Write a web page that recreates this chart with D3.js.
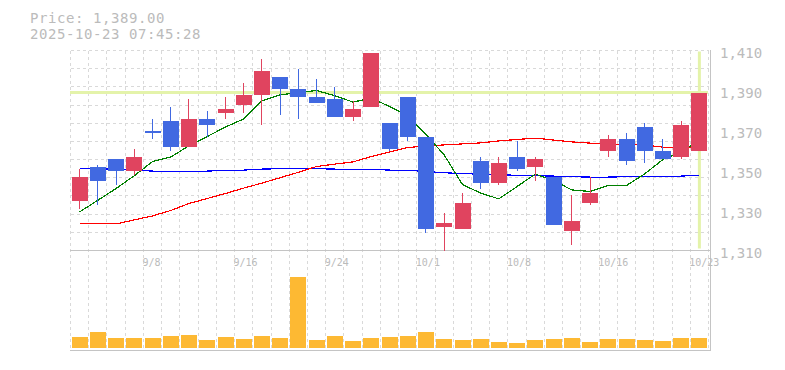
<!DOCTYPE html>
<html><head><meta charset="utf-8">
<script src="https://cdn.jsdelivr.net/npm/d3@7"></script>
<style>body{margin:0;background:#fff;} svg{display:block;}</style>
</head><body><svg id="c" width="785" height="370"></svg>
<script>
// ---- data ----
const dates=["9/2","9/3","9/4","9/5","9/8","9/9","9/10","9/11","9/12","9/16","9/17","9/18","9/19","9/22","9/24","9/25","9/26","9/29","9/30","10/1","10/2","10/3","10/6","10/7","10/8","10/9","10/10","10/14","10/15","10/16","10/17","10/20","10/21","10/22","10/23"];
const openP =[1335,1352,1356,1350,1370,1375,1362,1376,1379,1383,1388,1397,1391,1387,1386,1377,1382,1374,1387,1367,1322,1321,1355,1344,1357,1352,1347,1320,1334,1360,1366,1372,1360,1357,1360];
const highP =[1351,1353,1356,1361,1376,1382,1386,1380,1387,1394,1406,1397,1401,1396,1392,1385,1409,1374,1387,1367,1329,1339,1357,1357,1365,1357,1347,1338,1347,1368,1369,1374,1366,1375,1389];
const lowP  =[1331,1333,1343,1348,1366,1360,1362,1367,1376,1379,1373,1378,1376,1384,1377,1375,1382,1360,1365,1319,1310,1321,1341,1343,1350,1345,1323,1313,1333,1357,1353,1354,1356,1356,1360];
const closeP=[1347,1345,1350,1357,1369,1362,1376,1373,1381,1388,1400,1391,1387,1384,1377,1381,1409,1361,1367,1321,1324,1334,1344,1354,1351,1356,1323,1325,1339,1366,1355,1360,1356,1373,1389];
const volume=[11000,16000,10000,10000,10000,12000,13000,8000,11000,9000,12000,10000,71300,8000,12000,7000,10000,11000,12000,16000,9000,8000,9000,6000,5000,8000,9000,10000,6000,9000,9000,8000,7000,10000,10000];
const maShort=[1329.3,1335.1,1341,1347.4,1354.5,1356.8,1362.3,1367,1371.7,1375.8,1384.8,1387.8,1389,1390,1387.4,1384.2,1386.2,1382,1377.5,1368,1357.8,1343,1338.7,1335.8,1342,1348.2,1345,1340.3,1339.5,1342.5,1342.5,1348.3,1355.5,1359.2,1365];
const maMid=[1323.7,1323.7,1323.3,1325.3,1327.3,1330,1333.5,1336,1338.5,1341.2,1343.7,1346.4,1349.1,1352,1353.2,1354.3,1357,1359.2,1361.5,1362.2,1362.8,1363.3,1363.8,1364.8,1365.5,1366.2,1365.2,1364.3,1363.7,1363.2,1363,1362.7,1361.7,1361.7,1361.7];
const maLong=[1351.2,1351.1,1350.4,1350.2,1349.7,1349.7,1349.7,1349.7,1350.1,1350.2,1350.7,1350.9,1350.9,1350.9,1350.7,1350.7,1350.6,1350.2,1350.1,1349.5,1348.9,1348.4,1348.2,1347.9,1347.6,1347.4,1347.2,1346.9,1346.7,1346.7,1346.9,1347,1347.1,1347.2,1347.6];
const xTickLabels=["9/8","9/16","9/24","10/1","10/8","10/16","10/23"];
const yTicks=[1310,1330,1350,1370,1390,1410];
const lastPrice=1389;
const headerLines=["Price: 1,389.00","2025-10-23 07:45:28"];

// ---- drawing ----
const svg=d3.select("#c");
const x=d3.scaleBand().domain(dates).range([70.5,708.5]).padding(0);
const y=d3.scaleLinear().domain([1310,1410]).range([250.5,50.5]);
const yv=d3.scaleLinear().domain([0,80000]).range([348,268]);
const bw=x.bandwidth();
const cx=d=>x(d)+bw/2;
const UP="#e0445f", DOWN="#4169e1", GRID="#d9d9d9", AX="#c4c4c4", TXT="#bbbbbb", HI="#e4f3aa", VOL="#fdb933";
const mono='"DejaVu Sans Mono","Liberation Mono",monospace';

// grid
const g=svg.append("g").attr("stroke",GRID).attr("stroke-dasharray","3,3").attr("shape-rendering","crispEdges");
const vx=dates.map(d=>x(d)).concat([708.5]);
g.selectAll(".v").data(vx).join("line").attr("x1",d=>d).attr("x2",d=>d).attr("y1",50.5).attr("y2",350);
const hy=d3.range(12).map(i=>50.5+i*200/11);
g.selectAll(".h").data(hy).join("line").attr("x1",70.5).attr("x2",708.5).attr("y1",d=>d).attr("y2",d=>d);

// axis lines
const a=svg.append("g").attr("stroke",AX).attr("stroke-width",1.5).attr("shape-rendering","crispEdges");
a.append("line").attr("x1",70).attr("x2",711).attr("y1",y(1310)).attr("y2",y(1310));
a.append("line").attr("x1",70).attr("x2",711).attr("y1",350.5).attr("y2",350.5);
a.append("line").attr("x1",710.5).attr("x2",710.5).attr("y1",50).attr("y2",351);

// highlight lines
svg.append("line").attr("x1",70).attr("x2",708).attr("y1",y(lastPrice)).attr("y2",y(lastPrice)).attr("stroke",HI).attr("stroke-width",3);
const lastD=dates[dates.length-1];
svg.append("line").attr("x1",cx(lastD)).attr("x2",cx(lastD)).attr("y1",51.5).attr("y2",248.5).attr("stroke",HI).attr("stroke-width",3);

// moving averages
const line=arr=>d3.line().x((d,i)=>cx(dates[i])).y(d=>y(d))(arr);
[[maLong,"#0000ff"],[maMid,"#ff0000"],[maShort,"#008000"]].forEach(([arr,c])=>{
  svg.append("path").attr("d",line(arr)).attr("fill","none").attr("stroke",c).attr("stroke-width",1.2).attr("shape-rendering","crispEdges");
});

// candles
const cg=svg.append("g").attr("shape-rendering","crispEdges");
const idx=d3.range(dates.length);
const col=i=>closeP[i]>=openP[i]?UP:DOWN;
cg.selectAll(".w").data(idx).join("line")
  .attr("x1",i=>Math.floor(cx(dates[i]))+0.5).attr("x2",i=>Math.floor(cx(dates[i]))+0.5)
  .attr("y1",i=>y(highP[i])).attr("y2",i=>y(lowP[i])).attr("stroke",col).attr("stroke-width",1.5);
cg.selectAll(".b").data(idx).join("rect")
  .attr("x",i=>x(dates[i])+1.2).attr("width",16)
  .attr("y",i=>y(Math.max(openP[i],closeP[i])))
  .attr("height",i=>Math.max(1,Math.abs(y(openP[i])-y(closeP[i]))))
  .attr("fill",col);

// volume
svg.append("g").attr("shape-rendering","crispEdges").selectAll("rect").data(idx).join("rect")
  .attr("x",i=>x(dates[i])+1.2).attr("width",16)
  .attr("y",i=>yv(volume[i])).attr("height",i=>yv(0)-yv(volume[i])).attr("fill",VOL);

// text
svg.append("g").selectAll("text").data(headerLines).join("text")
  .attr("x",30).attr("y",(d,i)=>22.6+i*16.5).text(d=>d)
  .attr("font-family",mono).attr("font-size",14).attr("letter-spacing",0.57).attr("fill",TXT);
svg.append("g").selectAll("text").data(yTicks).join("text")
  .attr("x",720).attr("y",d=>y(d)+7.6).text(d=>d3.format(",")(d))
  .attr("font-family",mono).attr("font-size",14).attr("fill",TXT);
svg.append("g").selectAll("text").data(xTickLabels).join("text")
  .attr("x",d=>x(d)-1).attr("y",266).text(d=>d)
  .attr("font-family",mono).attr("font-size",10).attr("fill",TXT);
</script></body></html>
